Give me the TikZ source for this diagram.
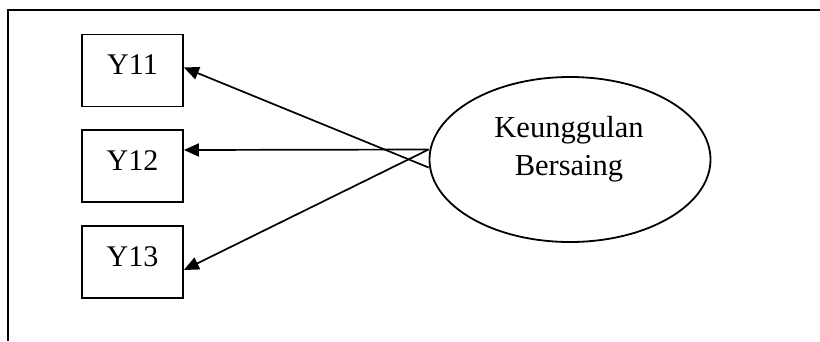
\documentclass[tikz,border=0pt]{standalone}
\usepackage{fontspec}
\setmainfont{Liberation Serif}
\usetikzlibrary{arrows.meta,shapes.geometric}
\begin{document}
\begin{tikzpicture}[x=1pt,y=-1pt,
  frameline/.style={line width=1.8pt},
  boxnode/.style={draw,line width=1.8pt,minimum width=101pt,minimum height=72pt,inner sep=0pt,
    text height=22pt,text depth=14pt,font=\fontsize{30}{36}\selectfont},
  ellnode/.style={draw,ellipse,line width=1.8pt,minimum width=281pt,minimum height=165pt,inner sep=0pt},
  labelnode/.style={align=center,inner sep=0pt,font=\fontsize{30.5}{38}\selectfont},
  arr/.style={line width=1.7pt,-{Triangle[length=15pt,width=13pt]}}]
\useasboundingbox (0,0) rectangle (820,341);
\coordinate (fa) at (8,341);
\coordinate (fb) at (8,10);
\coordinate (fc) at (820,10);
\draw[frameline] (fa) -- (fb) -- (fc);
\node[boxnode] (b1) at (132.5,70.5) {Y11};
\node[boxnode] (b2) at (132.5,166) {Y12};
\node[boxnode] (b3) at (132.5,262) {Y13};
\node[ellnode] (e) at (570,159.5) {};
\node[labelnode,anchor=north] (t) at (569,116) {Keunggulan\\Bersaing};
\draw[arr] ([yshift=-8pt]e.west) -- ([yshift=3pt]b1.east);
\draw[arr] ([yshift=10pt]e.west) -- ([yshift=16pt]b2.east);
\draw[arr] ([yshift=10pt]e.west) -- ([yshift=-8pt]b3.east);
\end{tikzpicture}
\end{document}
